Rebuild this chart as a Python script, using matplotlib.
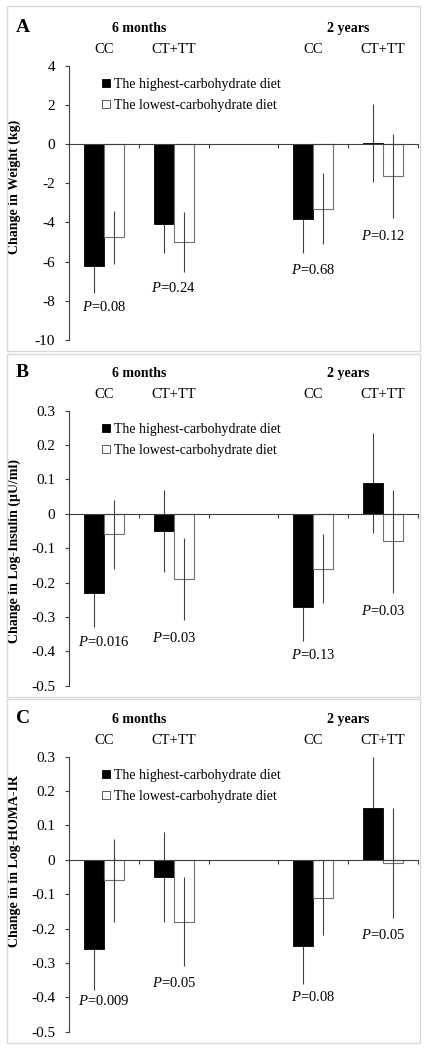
import numpy as np
import matplotlib
matplotlib.use("Agg")
import matplotlib.pyplot as plt
from matplotlib.patches import Patch, Rectangle
from matplotlib.transforms import blended_transform_factory

# x positions: 6 months CC, CT+TT, (gap), 2 years CC, CT+TT
cat_pos = [0, 1, 3, 4]
genotypes = ["CC", "CT+TT", "CC", "CT+TT"]
periods = ["6 months", "2 years"]
series_names = ["The highest-carbohydrate diet", "The lowest-carbohydrate diet"]

# panel A - weight (kg)
weight_high = [-6.2, -4.1, -3.8, 0.07]
weight_high_err = [1.4, 1.45, 1.75, 2.0]
weight_low = [-4.75, -5.0, -3.3, -1.63]
weight_low_err = [1.35, 1.55, 1.8, 2.15]
weight_p = ["0.08", "0.24", "0.68", "0.12"]
weight_p_y = [-8.3, -7.35, -6.45, -4.7]

# panel B - log insulin
ins_high = [-0.23, -0.05, -0.27, 0.09]
ins_high_err = [0.10, 0.12, 0.10, 0.145]
ins_low = [-0.06, -0.19, -0.16, -0.08]
ins_low_err = [0.10, 0.12, 0.10, 0.15]
ins_p = ["0.016", "0.03", "0.13", "0.03"]
ins_p_y = [-0.373, -0.36, -0.41, -0.283]

# panel C - log HOMA-IR
homa_high = [-0.26, -0.05, -0.25, 0.15]
homa_high_err = [0.12, 0.13, 0.11, 0.15]
homa_low = [-0.06, -0.18, -0.11, -0.01]
homa_low_err = [0.12, 0.13, 0.11, 0.16]
homa_p = ["0.009", "0.05", "0.08", "0.05"]
homa_p_y = [-0.41, -0.358, -0.40, -0.218]

plt.rcParams['font.family'] = ['Liberation Serif', 'DejaVu Serif']
plt.rcParams['axes.unicode_minus'] = False
plt.rcParams['mathtext.fontset'] = 'custom'
plt.rcParams['mathtext.it'] = 'Liberation Serif:italic'
plt.rcParams['mathtext.rm'] = 'Liberation Serif'

W, H = 426, 1050
fig = plt.figure(figsize=(W / 100, H / 100), dpi=100)

axis_col = '#404040'
bw = 0.287
fs = 10.5


def draw_panel(ax_box, box, letter, ylabel, ylim, yticks, label_y,
               high, high_err, low, low_err, pvals, p_y):
    # light border around panel (pixel coords from top)
    bx0, by0, bx1, by1 = box
    fig.patches.append(Rectangle((bx0 / W, 1 - by1 / H), (bx1 - bx0) / W, (by1 - by0) / H,
                                 transform=fig.transFigure, fill=False,
                                 edgecolor='#d9d9d9', linewidth=1))
    left, top, right, bottom = ax_box
    ax = fig.add_axes([left / W, 1 - bottom / H, (right - left) / W, (bottom - top) / H])
    x = np.array(cat_pos)
    # black bars hide their own error line, white bars do not
    ax.errorbar(x - bw / 2, high, yerr=high_err, fmt='none', ecolor=axis_col,
                elinewidth=0.8, capsize=0, zorder=1)
    ax.bar(x - bw / 2, high, bw, color='black', edgecolor='black', linewidth=0.6, zorder=2)
    ax.bar(x + bw / 2, low, bw, color='white', edgecolor='#707070', linewidth=0.8, zorder=2)
    ax.errorbar(x + bw / 2, low, yerr=low_err, fmt='none', ecolor=axis_col,
                elinewidth=0.8, capsize=0, zorder=3)

    ax.set_xlim(-0.5, 4.5)
    ax.set_ylim(*ylim)
    ax.set_yticks(yticks)
    ax.set_yticklabels([f'{v:g}' for v in yticks])
    ax.tick_params(axis='y', direction='out', length=3, width=0.8, color=axis_col,
                   labelsize=11, pad=7)
    ax.set_xticks([-0.5, 0.5, 1.5, 2.5, 3.5, 4.5])
    ax.set_xticklabels([])
    ax.tick_params(axis='x', direction='out', length=3, width=0.8, color=axis_col)
    for s in ['top', 'right']:
        ax.spines[s].set_visible(False)
    ax.spines['bottom'].set_position(('data', 0))
    ax.spines['bottom'].set_color(axis_col)
    ax.spines['left'].set_color(axis_col)
    ax.spines['bottom'].set_linewidth(0.8)
    ax.spines['left'].set_linewidth(0.8)
    ax.patch.set_alpha(0)

    ax.set_ylabel(ylabel, fontsize=10, fontweight='bold')
    ax.yaxis.set_label_coords(-0.1375, label_y)

    trans = blended_transform_factory(ax.transData, ax.transAxes)
    ax.text(0.5, 1.137, periods[0], transform=trans, ha='center', va='center',
            fontsize=10, fontweight='bold')
    ax.text(3.5, 1.137, periods[1], transform=trans, ha='center', va='center',
            fontsize=10, fontweight='bold')
    for xp, g in zip(cat_pos, genotypes):
        ax.text(xp, 1.058, g, transform=trans, ha='center', va='center', fontsize=fs)

    for xp, p, yp in zip(cat_pos, pvals, p_y):
        ax.text(xp, yp, r'$\mathit{P}$=' + p, ha='center', va='center', fontsize=fs)

    handles = [Patch(facecolor='black', edgecolor='black', linewidth=0.6),
               Patch(facecolor='white', edgecolor='#404040', linewidth=0.6)]
    ax.legend(handles, series_names, loc='upper left', bbox_to_anchor=(0.08, 0.975),
              frameon=False, fontsize=10, handlelength=0.55, handleheight=0.55,
              handletextpad=0.25, labelspacing=0.55, borderaxespad=0)

    fig.text(16 / W, 1 - (top - 38) / H, letter, fontsize=14, fontweight='bold',
             ha='left', va='center')
    return ax


draw_panel((69, 65.7, 418, 340), (7, 6, 420, 351), 'A', 'Change in Weight (kg)',
           (-10, 4), [4, 2, 0, -2, -4, -6, -8, -10], 0.558,
           weight_high, weight_high_err, weight_low, weight_low_err, weight_p, weight_p_y)
draw_panel((69, 410.7, 418, 685.7), (7, 354, 420, 697), 'B', 'Change in Log-Insulin (\u00b5U/ml)',
           (-0.5, 0.3), [0.3, 0.2, 0.1, 0, -0.1, -0.2, -0.3, -0.4, -0.5], 0.49,
           ins_high, ins_high_err, ins_low, ins_low_err, ins_p, ins_p_y)
draw_panel((69, 756.7, 418, 1031.7), (7, 699, 420, 1043), 'C', 'Change in in Log-HOMA-IR',
           (-0.5, 0.3), [0.3, 0.2, 0.1, 0, -0.1, -0.2, -0.3, -0.4, -0.5], 0.62,
           homa_high, homa_high_err, homa_low, homa_low_err, homa_p, homa_p_y)

fig.savefig('out.png', dpi=100)
